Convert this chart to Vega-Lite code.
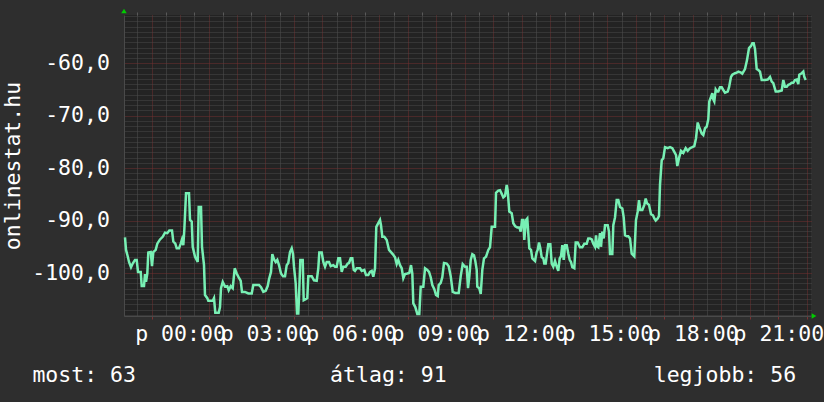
{
  "$schema": "https://vega.github.io/schema/vega-lite/v6.json",
  "width": 687,
  "height": 301,
  "autosize": {"type": "none"},
  "padding": {"left": 124, "top": 15, "right": 13, "bottom": 86},
  "background": "#2e2e2e",
  "config": {"view": {"fill": "#232323", "stroke": null}, "font": "DejaVu Sans Mono"},
  "title": {
    "text": "most: 63\u00a0\u00a0\u00a0\u00a0\u00a0\u00a0\u00a0\u00a0\u00a0\u00a0\u00a0\u00a0\u00a0\u00a0\u00a0átlag: 91\u00a0\u00a0\u00a0\u00a0\u00a0\u00a0\u00a0\u00a0\u00a0\u00a0\u00a0\u00a0\u00a0\u00a0\u00a0\u00a0legjobb: 56",
    "orient": "bottom",
    "anchor": "start",
    "frame": "group",
    "dx": -91.6,
    "offset": 37,
    "baseline": "alphabetic",
    "font": "DejaVu Sans Mono",
    "fontSize": 21.5,
    "fontWeight": "normal",
    "color": "#ffffff"
  },
  "data": {"values": [
    {"h":-1.931,"v":-93.2},{"h":-1.895,"v":-95.6},{"h":-1.836,"v":-96.8},{"h":-1.790,"v":-97.9},{"h":-1.720,"v":-98.9},{"h":-1.660,"v":-98.2},{"h":-1.580,"v":-97.5},{"h":-1.520,"v":-97.5},{"h":-1.474,"v":-99.8},{"h":-1.379,"v":-99.8},{"h":-1.344,"v":-102.5},{"h":-1.264,"v":-102.5},{"h":-1.229,"v":-100.2},{"h":-1.193,"v":-101.7},{"h":-1.148,"v":-100.1},{"h":-1.113,"v":-96.1},{"h":-1.028,"v":-96.0},{"h":-0.983,"v":-98.7},{"h":-0.937,"v":-96.0},{"h":-0.853,"v":-95.6},{"h":-0.797,"v":-94.4},{"h":-0.702,"v":-93.6},{"h":-0.607,"v":-93.1},{"h":-0.527,"v":-92.3},{"h":-0.446,"v":-92.4},{"h":-0.376,"v":-91.9},{"h":-0.281,"v":-91.9},{"h":-0.235,"v":-94.0},{"h":-0.165,"v":-94.4},{"h":-0.116,"v":-95.3},{"h":-0.035,"v":-95.3},{"h":0.025,"v":-94.4},{"h":0.070,"v":-93.6},{"h":0.116,"v":-94.7},{"h":0.151,"v":-91.8},{"h":0.211,"v":-84.8},{"h":0.316,"v":-84.8},{"h":0.351,"v":-89.9},{"h":0.411,"v":-90.2},{"h":0.446,"v":-95.0},{"h":0.527,"v":-96.9},{"h":0.586,"v":-97.5},{"h":0.621,"v":-97.9},{"h":0.656,"v":-87.4},{"h":0.737,"v":-87.4},{"h":0.772,"v":-95.0},{"h":0.842,"v":-98.5},{"h":0.877,"v":-104.2},{"h":0.958,"v":-104.8},{"h":0.993,"v":-105.3},{"h":1.148,"v":-105.3},{"h":1.193,"v":-104.8},{"h":1.239,"v":-107.6},{"h":1.358,"v":-107.6},{"h":1.404,"v":-106.5},{"h":1.439,"v":-102.9},{"h":1.499,"v":-101.7},{"h":1.580,"v":-102.6},{"h":1.660,"v":-102.5},{"h":1.709,"v":-103.3},{"h":1.780,"v":-102.5},{"h":1.850,"v":-102.9},{"h":1.920,"v":-99.1},{"h":1.990,"v":-100.1},{"h":2.046,"v":-100.7},{"h":2.131,"v":-101.5},{"h":2.176,"v":-103.6},{"h":2.282,"v":-103.6},{"h":2.397,"v":-103.9},{"h":2.517,"v":-103.9},{"h":2.573,"v":-102.3},{"h":2.748,"v":-102.3},
    {"h":2.773,"v":-102.3},{"h":2.843,"v":-102.7},{"h":2.924,"v":-103.6},{"h":3.008,"v":-103.4},{"h":3.078,"v":-102.5},{"h":3.124,"v":-101.2},{"h":3.194,"v":-99.8},{"h":3.240,"v":-96.4},{"h":3.299,"v":-97.4},{"h":3.359,"v":-97.9},{"h":3.415,"v":-97.5},{"h":3.475,"v":-98.5},{"h":3.545,"v":-100.1},{"h":3.615,"v":-100.6},{"h":3.686,"v":-100.6},{"h":3.745,"v":-98.5},{"h":3.801,"v":-98.1},{"h":3.861,"v":-96.0},{"h":3.921,"v":-95.3},{"h":3.966,"v":-96.3},{"h":4.001,"v":-98.8},{"h":4.061,"v":-102.0},{"h":4.107,"v":-107.7},{"h":4.152,"v":-107.7},{"h":4.177,"v":-104.5},{"h":4.223,"v":-97.5},{"h":4.307,"v":-97.5},{"h":4.342,"v":-105.2},{"h":4.412,"v":-105.0},{"h":4.468,"v":-104.8},{"h":4.503,"v":-100.6},{"h":4.623,"v":-100.6},{"h":4.703,"v":-101.4},{"h":4.798,"v":-101.5},{"h":4.854,"v":-99.1},{"h":4.889,"v":-96.1},{"h":4.974,"v":-96.1},{"h":5.030,"v":-97.9},{"h":5.090,"v":-98.8},{"h":5.149,"v":-97.9},{"h":5.230,"v":-97.9},{"h":5.290,"v":-98.7},{"h":5.381,"v":-98.5},{"h":5.441,"v":-98.8},{"h":5.500,"v":-98.8},{"h":5.556,"v":-97.2},{"h":5.616,"v":-97.2},{"h":5.676,"v":-99.8},{"h":5.732,"v":-98.8},{"h":5.816,"v":-98.8},{"h":5.886,"v":-98.2},{"h":5.932,"v":-98.1},{"h":5.992,"v":-97.2},{"h":6.048,"v":-97.2},{"h":6.097,"v":-99.4},{"h":6.142,"v":-99.6},{"h":6.202,"v":-99.1},{"h":6.318,"v":-99.1},{"h":6.378,"v":-99.6},{"h":6.469,"v":-99.4},{"h":6.529,"v":-100.4},{"h":6.609,"v":-100.4},{"h":6.669,"v":-99.8},{"h":6.729,"v":-99.6},{"h":6.785,"v":-100.7},{"h":6.845,"v":-99.1},{"h":6.890,"v":-91.2},{"h":6.960,"v":-90.5},{"h":7.020,"v":-89.9},{"h":7.055,"v":-90.9},{"h":7.101,"v":-93.1},{"h":7.171,"v":-93.1},{"h":7.255,"v":-93.7},{"h":7.336,"v":-95.6},
    {"h":7.466,"v":-96.4},{"h":7.547,"v":-97.0},{"h":7.606,"v":-98.3},{"h":7.662,"v":-97.5},{"h":7.722,"v":-98.5},{"h":7.782,"v":-99.1},{"h":7.838,"v":-101.0},{"h":7.898,"v":-100.2},{"h":7.978,"v":-100.1},{"h":8.048,"v":-100.0},{"h":8.108,"v":-98.5},{"h":8.154,"v":-100.1},{"h":8.189,"v":-105.8},{"h":8.259,"v":-106.5},{"h":8.329,"v":-107.8},{"h":8.399,"v":-107.8},{"h":8.449,"v":-102.6},{"h":8.540,"v":-102.6},{"h":8.600,"v":-99.1},{"h":8.680,"v":-99.4},{"h":8.740,"v":-99.8},{"h":8.800,"v":-100.8},{"h":8.856,"v":-102.3},{"h":8.926,"v":-103.1},{"h":8.986,"v":-104.2},{"h":9.045,"v":-104.4},{"h":9.080,"v":-102.3},{"h":9.151,"v":-101.9},{"h":9.207,"v":-100.8},{"h":9.266,"v":-98.1},{"h":9.361,"v":-98.2},{"h":9.431,"v":-98.7},{"h":9.502,"v":-100.6},{"h":9.572,"v":-103.6},{"h":9.663,"v":-103.8},{"h":9.782,"v":-103.8},{"h":9.853,"v":-100.6},{"h":9.923,"v":-98.3},{"h":10.004,"v":-98.8},{"h":10.063,"v":-98.8},{"h":10.109,"v":-102.9},{"h":10.155,"v":-100.7},{"h":10.204,"v":-97.5},{"h":10.260,"v":-96.4},{"h":10.319,"v":-96.6},{"h":10.365,"v":-97.7},{"h":10.414,"v":-99.4},{"h":10.435,"v":-102.6},{"h":10.505,"v":-102.9},{"h":10.555,"v":-104.0},{"h":10.611,"v":-99.4},{"h":10.670,"v":-97.2},{"h":10.741,"v":-96.9},{"h":10.821,"v":-95.6},{"h":10.881,"v":-95.1},{"h":10.941,"v":-91.2},{"h":11.057,"v":-91.2},{"h":11.092,"v":-84.7},{"h":11.172,"v":-84.3},{"h":11.232,"v":-84.2},{"h":11.292,"v":-84.9},{"h":11.348,"v":-85.6},{"h":11.408,"v":-85.3},{"h":11.467,"v":-83.2},{"h":11.502,"v":-84.3},{"h":11.558,"v":-88.3},{"h":11.643,"v":-88.6},{"h":11.699,"v":-90.5},{"h":11.769,"v":-91.1},{"h":11.839,"v":-91.3},{"h":11.910,"v":-91.3},{"h":11.958,"v":-92.1},{"h":12.004,"v":-89.9},{"h":12.050,"v":-89.9},{"h":12.085,"v":-93.7},{"h":12.145,"v":-89.9},{"h":12.190,"v":-89.6},
    {"h":12.261,"v":-95.3},{"h":12.320,"v":-95.6},{"h":12.366,"v":-97.2},{"h":12.461,"v":-97.7},{"h":12.520,"v":-96.0},{"h":12.555,"v":-95.6},{"h":12.601,"v":-94.2},{"h":12.647,"v":-95.3},{"h":12.696,"v":-97.0},{"h":12.752,"v":-97.2},{"h":12.787,"v":-98.2},{"h":12.836,"v":-98.2},{"h":12.882,"v":-96.3},{"h":12.927,"v":-94.5},{"h":12.998,"v":-94.5},{"h":13.047,"v":-98.2},{"h":13.103,"v":-98.8},{"h":13.163,"v":-97.7},{"h":13.222,"v":-98.8},{"h":13.278,"v":-99.6},{"h":13.327,"v":-97.2},{"h":13.373,"v":-96.8},{"h":13.419,"v":-94.7},{"h":13.468,"v":-97.5},{"h":13.514,"v":-94.7},{"h":13.573,"v":-94.7},{"h":13.629,"v":-96.3},{"h":13.678,"v":-97.5},{"h":13.724,"v":-97.9},{"h":13.770,"v":-98.9},{"h":13.840,"v":-99.1},{"h":13.889,"v":-94.2},{"h":13.959,"v":-94.2},{"h":14.040,"v":-95.1},{"h":14.121,"v":-95.1},{"h":14.191,"v":-94.4},{"h":14.275,"v":-94.4},{"h":14.331,"v":-93.4},{"h":14.391,"v":-93.4},{"h":14.451,"v":-93.6},{"h":14.507,"v":-94.4},{"h":14.567,"v":-95.0},{"h":14.602,"v":-92.8},{"h":14.637,"v":-94.9},{"h":14.683,"v":-95.1},{"h":14.742,"v":-92.4},{"h":14.777,"v":-95.0},{"h":14.823,"v":-92.1},{"h":14.872,"v":-93.4},{"h":14.918,"v":-90.9},{"h":15.012,"v":-90.9},{"h":15.058,"v":-92.1},{"h":15.093,"v":-96.4},{"h":15.174,"v":-96.4},{"h":15.209,"v":-90.9},{"h":15.269,"v":-89.4},{"h":15.328,"v":-86.1},{"h":15.384,"v":-86.1},{"h":15.444,"v":-87.4},{"h":15.525,"v":-87.7},{"h":15.574,"v":-89.4},{"h":15.620,"v":-92.8},{"h":15.679,"v":-93.0},{"h":15.735,"v":-93.0},{"h":15.795,"v":-93.4},{"h":15.855,"v":-96.3},{"h":15.946,"v":-96.8},{"h":16.005,"v":-89.9},{"h":16.065,"v":-88.3},{"h":16.111,"v":-86.1},{"h":16.157,"v":-88.0},{"h":16.227,"v":-88.0},{"h":16.297,"v":-87.0},{"h":16.346,"v":-85.8},{"h":16.392,"v":-86.7},{"h":16.462,"v":-87.0},{"h":16.532,"v":-88.8},{"h":16.602,"v":-89.0},{"h":16.648,"v":-89.6},{"h":16.697,"v":-90.0},{"h":16.767,"v":-89.6},{"h":16.813,"v":-89.1},
    {"h":16.848,"v":-83.2},{"h":16.908,"v":-78.5},{"h":16.964,"v":-78.1},{"h":17.024,"v":-76.0},{"h":17.118,"v":-76.2},{"h":17.199,"v":-76.0},{"h":17.280,"v":-76.2},{"h":17.350,"v":-76.9},{"h":17.410,"v":-77.5},{"h":17.455,"v":-79.6},{"h":17.515,"v":-78.1},{"h":17.585,"v":-76.7},{"h":17.666,"v":-77.1},{"h":17.750,"v":-76.2},{"h":17.820,"v":-76.7},{"h":17.901,"v":-76.2},{"h":17.982,"v":-76.0},{"h":18.052,"v":-75.8},{"h":18.112,"v":-74.3},{"h":18.171,"v":-71.3},{"h":18.217,"v":-72.1},{"h":18.263,"v":-72.7},{"h":18.312,"v":-73.4},{"h":18.368,"v":-73.7},{"h":18.428,"v":-72.4},{"h":18.487,"v":-72.1},{"h":18.543,"v":-70.7},{"h":18.578,"v":-67.3},{"h":18.638,"v":-66.4},{"h":18.684,"v":-65.7},{"h":18.719,"v":-66.9},{"h":18.754,"v":-67.3},{"h":18.803,"v":-65.0},{"h":18.849,"v":-65.4},{"h":18.894,"v":-65.4},{"h":18.954,"v":-64.6},{"h":19.014,"v":-64.6},{"h":19.070,"v":-65.1},{"h":19.130,"v":-65.6},{"h":19.224,"v":-65.4},{"h":19.270,"v":-64.6},{"h":19.340,"v":-62.6},{"h":19.386,"v":-62.2},{"h":19.481,"v":-61.9},{"h":19.540,"v":-61.8},{"h":19.596,"v":-61.6},{"h":19.691,"v":-61.8},{"h":19.737,"v":-62.0},{"h":19.831,"v":-61.1},{"h":19.902,"v":-59.4},{"h":19.972,"v":-57.1},{"h":20.042,"v":-56.7},{"h":20.088,"v":-56.2},{"h":20.137,"v":-56.2},{"h":20.183,"v":-57.3},{"h":20.242,"v":-61.1},{"h":20.298,"v":-61.3},{"h":20.358,"v":-61.6},{"h":20.418,"v":-63.2},{"h":20.534,"v":-63.2},{"h":20.629,"v":-63.1},{"h":20.709,"v":-62.6},{"h":20.769,"v":-63.5},{"h":20.825,"v":-63.8},{"h":20.909,"v":-65.4},{"h":21.000,"v":-65.4},{"h":21.120,"v":-65.2},{"h":21.176,"v":-63.2},{"h":21.235,"v":-64.5},{"h":21.295,"v":-64.5},{"h":21.351,"v":-64.1},{"h":21.411,"v":-64.0},{"h":21.471,"v":-63.7},{"h":21.527,"v":-63.7},{"h":21.587,"v":-63.2},{"h":21.646,"v":-63.1},{"h":21.702,"v":-64.0},{"h":21.737,"v":-62.2},{"h":21.822,"v":-61.9},{"h":21.878,"v":-61.6},{"h":21.913,"v":-62.6},{"h":21.962,"v":-63.2}
  ]},
  "layer": [
    {
      "mark": {"type": "line", "opacity": 0},
      "encoding": {
        "x": {"field": "h", "type": "quantitative",
          "scale": {"domain": [-1.966, 22.148], "nice": false, "zero": false},
          "axis": {"orient": "top", "title": null, "labels": false, "domain": false,
            "ticks": true, "tickColor": "#5a5a5a", "tickSize": 3,
            "grid": true, "gridColor": "#525252", "gridDash": [1, 1], "gridWidth": 1,
            "values": [-1.5,-0.5,0.5,1.5,2.5,3.5,4.5,5.5,6.5,7.5,8.5,9.5,10.5,11.5,12.5,13.5,14.5,15.5,16.5,17.5,18.5,19.5,20.5,21.5]}},
        "y": {"field": "v", "type": "quantitative",
          "scale": {"domain": [-108.2, -50.8], "nice": false, "zero": false},
          "axis": {"orient": "left", "title": null, "labels": false, "domain": false, "ticks": false,
            "grid": true, "gridColor": "#4a4a4a", "gridDash": [1, 1], "gridWidth": 1,
            "values": [-108,-107,-106,-105,-104,-103,-102,-101,-99,-98,-97,-96,-95,-94,-93,-92,-91,-89,-88,-87,-86,-85,-84,-83,-82,-81,-79,-78,-77,-76,-75,-74,-73,-72,-71,-69,-68,-67,-66,-65,-64,-63,-62,-61,-59,-58,-57,-56,-55,-54,-53,-52,-51]}}
      }
    },
    {
      "mark": {"type": "line", "opacity": 0},
      "encoding": {
        "x": {"field": "h", "type": "quantitative",
          "scale": {"domain": [-1.966, 22.148], "nice": false, "zero": false},
          "axis": {"orient": "bottom", "title": null, "labels": false, "domain": false,
            "ticks": true, "tickColor": "#7a3232", "tickSize": 3,
            "grid": true, "gridColor": "#733030", "gridDash": [1, 1], "gridWidth": 1,
            "values": [-1,0,1,2,3,4,5,6,7,8,9,10,11,12,13,14,15,16,17,18,19,20,21,22]}},
        "y": {"field": "v", "type": "quantitative",
          "scale": {"domain": [-108.2, -50.8], "nice": false, "zero": false},
          "axis": {"orient": "left", "title": null, "labels": false, "domain": false, "ticks": false,
            "grid": true, "gridColor": "#733030", "gridDash": [1, 1], "gridWidth": 1,
            "values": [-100, -90, -80, -70, -60]}}
      }
    },
    {
      "mark": {"type": "line", "color": "#78f0b4", "strokeWidth": 2.5},
      "encoding": {
        "x": {"field": "h", "type": "quantitative",
          "scale": {"domain": [-1.966, 22.148], "nice": false, "zero": false},
          "axis": {"orient": "bottom", "title": null, "grid": false, "ticks": false, "tickSize": 0,
            "domain": true, "domainColor": "#4a4a4a", "domainWidth": 1,
            "values": [0, 3, 6, 9, 12, 15, 18, 21],
            "labelExpr": "'p ' + (datum.value < 10 ? '0' : '') + datum.value + ':00'",
            "labelFont": "DejaVu Sans Mono", "labelFontSize": 21.5, "labelColor": "#ffffff",
            "labelPadding": 7, "labelOverlap": false, "labelFlush": false, "labelBound": false}},
        "y": {"field": "v", "type": "quantitative",
          "scale": {"domain": [-108.2, -50.8], "nice": false, "zero": false},
          "axis": {"orient": "left", "title": "onlinestat.hu", "grid": false, "ticks": false, "tickSize": 0,
            "domain": true, "domainColor": "#4a4a4a", "domainWidth": 1,
            "values": [-100, -90, -80, -70, -60],
            "labelExpr": "'-' + abs(datum.value) + ',0'",
            "labelFont": "DejaVu Sans Mono", "labelFontSize": 21.5, "labelColor": "#ffffff",
            "labelPadding": 14.6, "labelOverlap": false, "labelFlush": false, "labelBound": false,
            "titleFont": "DejaVu Sans Mono", "titleFontSize": 21.5, "titleFontWeight": "normal",
            "titleColor": "#ffffff", "titlePadding": 7.5}}
      }
    },
    {
      "data": {"values": [{}]},
      "mark": {"type": "point", "shape": "triangle-up", "filled": true, "color": "#00cc00", "opacity": 1, "size": 30, "yOffset": -4},
      "encoding": {
        "x": {"datum": -1.966, "type": "quantitative", "axis": null},
        "y": {"datum": -50.8, "type": "quantitative", "axis": null}
      }
    },
    {
      "data": {"values": [{}]},
      "mark": {"type": "point", "shape": "triangle-right", "filled": true, "color": "#00cc00", "opacity": 1, "size": 30, "xOffset": 3},
      "encoding": {
        "x": {"datum": 22.148, "type": "quantitative", "axis": null},
        "y": {"datum": -108.2, "type": "quantitative", "axis": null}
      }
    }
  ],
  "resolve": {"axis": {"x": "independent", "y": "independent"}}
}
